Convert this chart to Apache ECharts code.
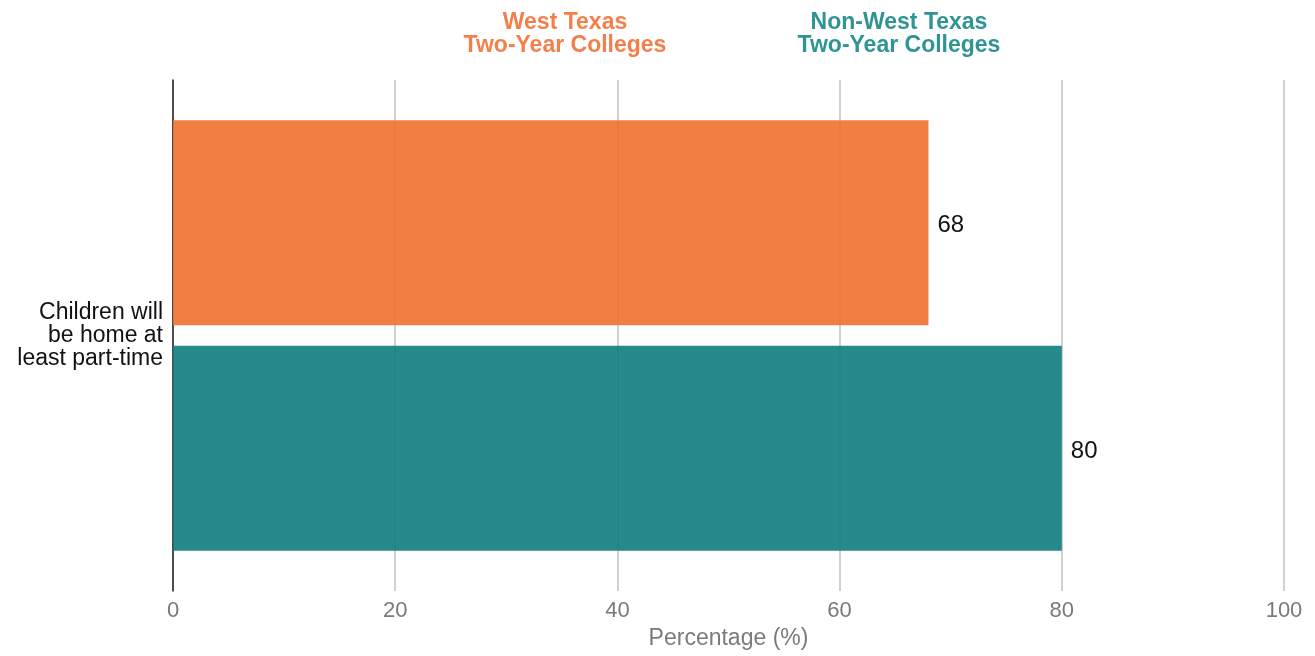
<!DOCTYPE html>
<html>
<head>
<meta charset="utf-8">
<script src="https://cdn.jsdelivr.net/npm/echarts@6/dist/echarts.min.js"></script>
<style>
  html, body { margin: 0; padding: 0; background: #fff; }
  #chart { width: 1315px; height: 656px; }
</style>
</head>
<body>
<div id="chart"></div>
<script>
var categories = ['Children will\nbe home at\nleast part-time'];
var seriesNames = ['West Texas Two-Year Colleges', 'Non-West Texas Two-Year Colleges'];
var westTexas = [68];
var nonWestTexas = [80];
var xTicks = [0, 20, 40, 60, 80, 100];

var font = 'Liberation Sans';

function legendItem(name, color, left) {
  var parts = name.split(' Two-Year');
  return {
    data: [name],
    left: left,
    top: 6,
    icon: 'none',
    itemWidth: 0,
    itemGap: 0,
    selectedMode: false,
    formatter: function () {
      return '{a|' + parts[0] + '}\n{a|Two-Year Colleges}';
    },
    textStyle: {
      color: color,
      fontFamily: font,
      fontWeight: 'bold',
      fontSize: 23,
      rich: {
        a: { width: 240, align: 'center', color: color, fontFamily: font, fontWeight: 'bold', fontSize: 23, lineHeight: 23 }
      }
    }
  };
}

var chart = echarts.init(document.getElementById('chart'));
chart.setOption({
  animation: false,
  legend: [
    legendItem(seriesNames[0], '#F47F4A', 435),
    legendItem(seriesNames[1], '#2E9494', 769)
  ],
  grid: { left: 173, right: 31, top: 80, bottom: 65, outerBoundsMode: 'none' },
  xAxis: {
    type: 'value',
    min: xTicks[0],
    max: xTicks[xTicks.length - 1],
    interval: 20,
    name: 'Percentage (%)',
    nameLocation: 'middle',
    nameGap: 34,
    nameTextStyle: { color: '#7a7a7a', fontSize: 23, fontFamily: font },
    axisLine: { show: false },
    axisTick: { show: false },
    axisLabel: { color: '#7a7a7a', fontSize: 22, fontFamily: font, margin: 9 },
    splitLine: { show: true, lineStyle: { color: '#d0d0d0', width: 2 } }
  },
  yAxis: {
    type: 'category',
    data: categories,
    inverse: true,
    axisLine: { show: true, lineStyle: { color: '#222', width: 1.5 } },
    axisTick: { show: false },
    axisLabel: { color: '#111', fontSize: 23, fontFamily: font, lineHeight: 23, margin: 10, align: 'right', padding: [4, 0, 0, 0] }
  },
  series: [
    {
      name: seriesNames[0],
      type: 'bar',
      data: westTexas,
      barWidth: 205,
      barGap: '10%',
      itemStyle: { color: 'rgba(238,113,48,0.9)' },
      label: { show: true, position: 'right', distance: 9, offset: [0, 3], color: '#111', fontSize: 24, fontFamily: font }
    },
    {
      name: seriesNames[1],
      type: 'bar',
      data: nonWestTexas,
      barWidth: 205,
      barGap: '10%',
      itemStyle: { color: 'rgba(14,125,125,0.9)' },
      label: { show: true, position: 'right', distance: 9, offset: [0, 3], color: '#111', fontSize: 24, fontFamily: font }
    }
  ]
});
</script>
</body>
</html>
